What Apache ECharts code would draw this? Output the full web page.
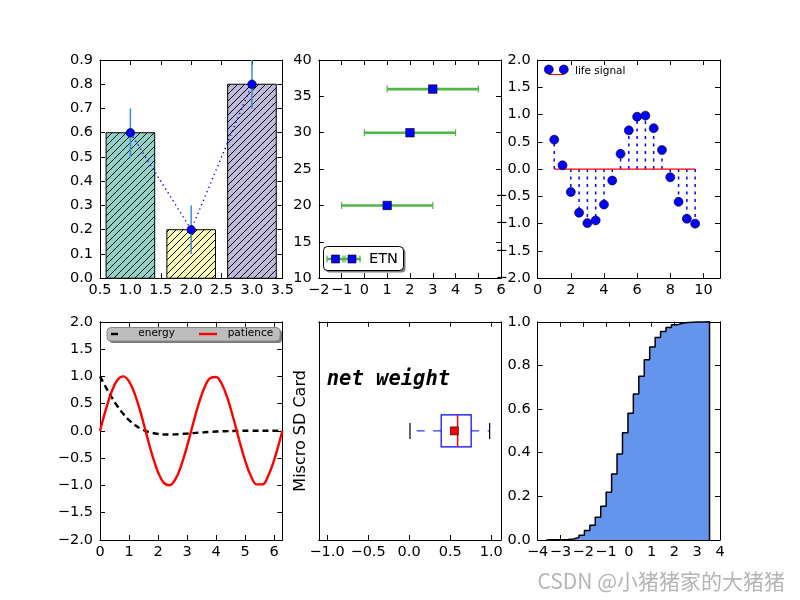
<!DOCTYPE html>
<html><head><meta charset="utf-8">
<script src="https://cdn.jsdelivr.net/npm/echarts@6/dist/echarts.min.js"></script>
<style>html,body{margin:0;padding:0;background:#fff}#c{width:800px;height:600px}</style>
</head><body><div id="c"></div>
<script>
// ---------------- DATA ----------------
const barX = [1, 2, 3];
const barHeights = [0.6, 0.2, 0.8];
const barErrors = [0.1, 0.1, 0.1];
const barColors = ['#8dd3c7', '#ffffb3', '#bebada'];

const etnX = [1, 2, 3];
const etnY = [20, 30, 36];
const etnXErr = [2, 2, 2];

const stemX = [1, 1.5, 2, 2.5, 3, 3.5, 4, 4.5, 5, 5.5, 6, 6.5, 7, 7.5, 8, 8.5, 9, 9.5];
const stemY = [0.54, 0.07, -0.42, -0.80, -0.99, -0.94, -0.65, -0.21, 0.28, 0.71, 0.96, 0.98, 0.75, 0.35, -0.15, -0.60, -0.91, -1.00];

const waveX = [0, 0.2, 0.4, 0.6, 0.8, 1.0, 1.2, 1.4, 1.6, 1.8, 2.0, 2.2, 2.4, 2.6, 2.8, 3.0, 3.2, 3.4, 3.6, 3.8, 4.0, 4.2, 4.4, 4.6, 4.8, 5.0, 5.2, 5.4, 5.6, 5.8, 6.0, 6.2, 6.283];
const energyY = [1.0, 0.802, 0.617, 0.453, 0.313, 0.199, 0.109, 0.042, -0.006, -0.037, -0.056, -0.065, -0.067, -0.064, -0.057, -0.049, -0.041, -0.032, -0.025, -0.018, -0.012, -0.007, -0.004, -0.001, 0.001, 0.002, 0.003, 0.003, 0.003, 0.003, 0.002, 0.002, 0.002];
const patienceY = [0, 0.389, 0.717, 0.932, 1.0, 0.909, 0.675, 0.335, -0.058, -0.443, -0.757, -0.952, -0.996, -0.883, -0.631, -0.279, 0.117, 0.494, 0.794, 0.968, 0.989, 0.855, 0.585, 0.223, -0.175, -0.544, -0.828, -0.981, -0.980, -0.818, -0.537, -0.166, 0.0];

// whisker low, Q1, median, Q3, whisker high
const boxFive = [0.01, 0.39, 0.59, 0.755, 0.98];
const boxMean = [0.55];

const histEdges = [-3.620, -3.381, -3.143, -2.904, -2.665, -2.427, -2.188, -1.949, -1.710, -1.472, -1.233, -0.994, -0.756, -0.517, -0.278, -0.039, 0.199, 0.438, 0.677, 0.915, 1.154, 1.393, 1.631, 1.870, 2.109, 2.348, 2.586, 2.825, 3.064, 3.302, 3.541];
const histCum = [0.001, 0.001, 0.001, 0.002, 0.005, 0.012, 0.022, 0.043, 0.068, 0.104, 0.155, 0.219, 0.302, 0.394, 0.491, 0.581, 0.669, 0.751, 0.826, 0.885, 0.928, 0.955, 0.974, 0.986, 0.993, 0.997, 0.998, 0.999, 0.9995, 1.0];

// tick values
const ax1XTicks = [0.5, 1, 1.5, 2, 2.5, 3, 3.5];
const ax1YTicks = [0, 0.1, 0.2, 0.3, 0.4, 0.5, 0.6, 0.7, 0.8, 0.9];
const ax2XTicks = [-2, -1, 0, 1, 2, 3, 4, 5, 6];
const ax2YTicks = [10, 15, 20, 25, 30, 35, 40];
const ax3XTicks = [0, 2, 4, 6, 8, 10];
const ax3YTicks = [-2, -1.5, -1, -0.5, 0, 0.5, 1, 1.5, 2];
const ax4XTicks = [0, 1, 2, 3, 4, 5, 6];
const ax4YTicks = [-2, -1.5, -1, -0.5, 0, 0.5, 1, 1.5, 2];
const ax5XTicks = [-1, -0.5, 0, 0.5, 1];
const ax5YTicks = [];
const ax6XTicks = [-4, -3, -2, -1, 0, 1, 2, 3, 4];
const ax6YTicks = [0, 0.2, 0.4, 0.6, 0.8, 1.0];

// ---------------- LAYOUT ----------------
const FONT = 'DejaVu Sans';
const TICKFS = 14.5;
const grids = [
  {left: 100, top: 60, width: 182.35, height: 218.2},
  {left: 318.8, top: 60, width: 182.35, height: 218.2},
  {left: 537.65, top: 60, width: 182.35, height: 218.2},
  {left: 100, top: 321.8, width: 182.35, height: 218.2},
  {left: 318.8, top: 321.8, width: 182.35, height: 218.2},
  {left: 537.65, top: 321.8, width: 182.35, height: 218.2}
];
const specs = [
  {x: {min: 0.5, max: 3.5, ticks: ax1XTicks, dec: 1}, y: {min: 0, max: 0.9, ticks: ax1YTicks, dec: 1}},
  {x: {min: -2, max: 6, ticks: ax2XTicks, dec: 0}, y: {min: 10, max: 40, ticks: ax2YTicks, dec: 0}},
  {x: {min: 0, max: 11, ticks: ax3XTicks, dec: 0}, y: {min: -2, max: 2, ticks: ax3YTicks, dec: 1}},
  {x: {min: 0, max: 6.283, ticks: ax4XTicks, dec: 0}, y: {min: -2, max: 2, ticks: ax4YTicks, dec: 1}},
  {x: {min: -1.1, max: 1.12, ticks: ax5XTicks, dec: 1}, y: {min: 0.5, max: 1.5, ticks: ax5YTicks, dec: 0, name: 'Miscro SD Card'}},
  {x: {min: -4, max: 4, ticks: ax6XTicks, dec: 0}, y: {min: 0, max: 1.0, ticks: ax6YTicks, dec: 1}}
];
function fmt(v, d) {
  let s = Number(v).toFixed(d);
  if (/^-0(\.0+)?$/.test(s)) s = s.slice(1);
  return s.replace('-', '\u2212');
}
function makeAxis(gi, pos, s, primary, isX) {
  const a = {
    type: 'value', gridIndex: gi, position: pos, min: s.min, max: s.max,
    axisLine: {show: true, onZero: false, lineStyle: {color: '#000', width: 1}},
    axisTick: {show: s.ticks.length > 0, inside: true, length: 5, customValues: s.ticks, lineStyle: {color: '#000', width: 1}},
    axisLabel: {show: primary && s.ticks.length > 0, customValues: s.ticks, formatter: v => fmt(v, s.dec),
      color: '#000', fontFamily: FONT, fontSize: TICKFS, margin: isX ? 5 : 7, hideOverlap: false},
    splitLine: {show: false}
  };
  if (primary && s.name) {
    a.name = s.name; a.nameLocation = 'middle'; a.nameGap = 10; a.nameRotate = 90;
    a.nameTextStyle = {color: '#000', fontFamily: FONT, fontSize: 16};
  }
  return a;
}
const xAxes = [], yAxes = [];
specs.forEach((sp, gi) => {
  xAxes.push(makeAxis(gi, 'bottom', sp.x, true, true));
  xAxes.push(makeAxis(gi, 'top', sp.x, false, true));
  yAxes.push(makeAxis(gi, 'left', sp.y, true, false));
  yAxes.push(makeAxis(gi, 'right', sp.y, false, false));
});
const AX = gi => ({xAxisIndex: 2 * gi, yAxisIndex: 2 * gi});

// ---------------- SERIES ----------------
const series = [];
// 1: hatched bars
series.push(Object.assign({
  type: 'custom', z: 2,
  data: barX.map((x, i) => [x, barHeights[i], i]),
  renderItem(params, api) {
    const x = api.value(0), h = api.value(1), i = api.value(2);
    const p0 = api.coord([x - 0.4, 0]), p1 = api.coord([x + 0.4, h]);
    const x0 = p0[0], x1 = p1[0], y0 = p1[1], y1 = p0[1];
    const ch = [{type: 'rect', shape: {x: x0, y: y0, width: x1 - x0, height: y1 - y0}, style: {fill: barColors[i]}}];
    const s = 7;
    for (let c = Math.ceil((x0 + y0) / s) * s; c < x1 + y1; c += s) {
      const xa = Math.max(x0, c - y1), xb = Math.min(x1, c - y0);
      if (xb > xa) ch.push({type: 'line', shape: {x1: xa, y1: c - xa, x2: xb, y2: c - xb}, style: {stroke: '#000', lineWidth: 1}});
    }
    ch.push({type: 'rect', shape: {x: x0, y: y0, width: x1 - x0, height: y1 - y0}, style: {fill: null, stroke: '#000', lineWidth: 1}});
    return {type: 'group', children: ch};
  }
}, AX(0)));
series.push(Object.assign({
  type: 'line', z: 3, symbol: 'none', data: barX.map((x, i) => [x, barHeights[i]]),
  lineStyle: {color: '#0000ff', width: 1.5, type: [1.2, 3.5]}
}, AX(0)));
series.push(Object.assign({
  type: 'custom', z: 4, data: barX.map((x, i) => [x, barHeights[i], barErrors[i]]),
  renderItem(params, api) {
    const x = api.value(0), y = api.value(1), e = api.value(2);
    const a = api.coord([x, y - e]), b = api.coord([x, y + e]);
    return {type: 'line', shape: {x1: a[0], y1: a[1], x2: b[0], y2: b[1]}, style: {stroke: '#3d8bd8', lineWidth: 1.5}};
  }
}, AX(0)));
series.push(Object.assign({
  type: 'scatter', z: 5, symbol: 'circle', symbolSize: 8.5, data: barX.map((x, i) => [x, barHeights[i]]),
  itemStyle: {color: '#0000ff', borderColor: '#000', borderWidth: 0.6, opacity: 1}
}, AX(0)));

// 2: horizontal error bars
series.push(Object.assign({
  type: 'custom', z: 3, data: etnX.map((x, i) => [x, etnY[i], etnXErr[i]]),
  renderItem(params, api) {
    const x = api.value(0), y = api.value(1), e = api.value(2);
    const a = api.coord([x - e, y]), b = api.coord([x + e, y]);
    return {type: 'group', children: [
      {type: 'line', shape: {x1: a[0], y1: a[1], x2: b[0], y2: b[1]}, style: {stroke: '#50b446', lineWidth: 2.6}},
      {type: 'line', shape: {x1: a[0], y1: a[1] - 3.5, x2: a[0], y2: a[1] + 3.5}, style: {stroke: '#50b446', lineWidth: 1.2}},
      {type: 'line', shape: {x1: b[0], y1: b[1] - 3.5, x2: b[0], y2: b[1] + 3.5}, style: {stroke: '#50b446', lineWidth: 1.2}}
    ]};
  }
}, AX(1)));
series.push(Object.assign({
  type: 'scatter', z: 5, symbol: 'rect', symbolSize: 8.5, data: etnX.map((x, i) => [x, etnY[i]]),
  itemStyle: {color: '#0000ff', borderColor: '#000', borderWidth: 0.6, opacity: 1}
}, AX(1)));

// 3: stem plot
series.push(Object.assign({
  type: 'custom', z: 3, data: stemX.map((x, i) => [x, stemY[i]]),
  renderItem(params, api) {
    const a = api.coord([api.value(0), 0]), b = api.coord([api.value(0), api.value(1)]);
    return {type: 'line', shape: {x1: a[0], y1: a[1], x2: b[0], y2: b[1]}, style: {stroke: '#0000ff', lineWidth: 1.5, lineDash: [3, 4.5]}};
  }
}, AX(2)));
series.push(Object.assign({
  type: 'line', z: 4, symbol: 'none', data: [[stemX[0], 0], [stemX[stemX.length - 1], 0]],
  lineStyle: {color: '#ff0000', width: 1.2}
}, AX(2)));
series.push(Object.assign({
  type: 'scatter', z: 5, symbol: 'circle', symbolSize: 9, data: stemX.map((x, i) => [x, stemY[i]]),
  itemStyle: {color: '#0000ff', borderColor: '#000', borderWidth: 0.6, opacity: 1}
}, AX(2)));

// 4: waves
series.push(Object.assign({
  type: 'line', z: 3, symbol: 'none', smooth: 0.4, data: waveX.map((x, i) => [x, energyY[i]]),
  lineStyle: {color: '#000', width: 2.4, type: [6, 4]}
}, AX(3)));
series.push(Object.assign({
  type: 'line', z: 4, symbol: 'none', smooth: 0.4, data: waveX.map((x, i) => [x, patienceY[i]]),
  lineStyle: {color: '#ff0000', width: 2.4}
}, AX(3)));

// 5: box plot (horizontal)
series.push(Object.assign({
  type: 'custom', z: 3, data: [[...boxFive, boxMean[0], 1]],
  renderItem(params, api) {
    const v = [0, 1, 2, 3, 4].map(i => api.value(i));
    const mean = api.value(5), yc = api.value(6);
    const half = 0.0735;
    const yT = api.coord([0, yc + half])[1], yB = api.coord([0, yc - half])[1], yM = api.coord([0, yc])[1];
    const cT = api.coord([0, yc + half / 2])[1], cB = api.coord([0, yc - half / 2])[1];
    const X = v.map(t => api.coord([t, yc])[0]);
    const mx = api.coord([mean, yc]);
    const blue = '#0000ff';
    return {type: 'group', children: [
      {type: 'line', shape: {x1: X[1], y1: yM, x2: X[0], y2: yM}, style: {stroke: blue, lineWidth: 1, lineDash: [8, 8.5]}},
      {type: 'line', shape: {x1: X[3], y1: yM, x2: X[4], y2: yM}, style: {stroke: blue, lineWidth: 1, lineDash: [8, 8.5]}},
      {type: 'line', shape: {x1: X[0], y1: cT, x2: X[0], y2: cB}, style: {stroke: '#000', lineWidth: 1.2}},
      {type: 'line', shape: {x1: X[4], y1: cT, x2: X[4], y2: cB}, style: {stroke: '#000', lineWidth: 1.2}},
      {type: 'rect', shape: {x: X[1], y: yT, width: X[3] - X[1], height: yB - yT}, style: {fill: null, stroke: blue, lineWidth: 1.2}},
      {type: 'line', shape: {x1: X[2], y1: yT, x2: X[2], y2: yB}, style: {stroke: '#ff0000', lineWidth: 1.5}},
      {type: 'rect', shape: {x: mx[0] - 4, y: mx[1] - 4, width: 8, height: 8}, style: {fill: '#ff0000', stroke: '#000', lineWidth: 0.6}}
    ]};
  }
}, AX(4)));

// 6: cumulative histogram (stepfilled)
const histPts = [[histEdges[0], 0]];
histCum.forEach((v, i) => histPts.push([histEdges[i], v]));
histPts.push([histEdges[histEdges.length - 1], histCum[histCum.length - 1]]);
histPts.push([histEdges[histEdges.length - 1], 0]);
series.push(Object.assign({
  type: 'line', z: 3, symbol: 'none', step: 'end', data: histPts,
  lineStyle: {color: '#000', width: 1.5},
  areaStyle: {color: '#6495ed', opacity: 1, origin: 'start'}
}, AX(5)));

// ---------------- LEGENDS / TEXT ----------------
const graphic = [
  // ETN legend
  {type: 'rect', z: 100, shape: {x: 325.5, y: 248.5, width: 80, height: 24, r: 4}, style: {fill: '#7f7f7f'}},
  {type: 'rect', z: 101, shape: {x: 323.5, y: 246.5, width: 80, height: 24, r: 4}, style: {fill: '#fff', stroke: '#000', lineWidth: 1}},
  {type: 'line', z: 102, shape: {x1: 327, y1: 259, x2: 361, y2: 259}, style: {stroke: '#50b446', lineWidth: 2.6}},
  {type: 'line', z: 102, shape: {x1: 327, y1: 255.5, x2: 327, y2: 262.5}, style: {stroke: '#50b446', lineWidth: 1.2}},
  {type: 'line', z: 102, shape: {x1: 343, y1: 255.5, x2: 343, y2: 262.5}, style: {stroke: '#50b446', lineWidth: 1.2}},
  {type: 'line', z: 102, shape: {x1: 345, y1: 255.5, x2: 345, y2: 262.5}, style: {stroke: '#50b446', lineWidth: 1.2}},
  {type: 'line', z: 102, shape: {x1: 360, y1: 255.5, x2: 360, y2: 262.5}, style: {stroke: '#50b446', lineWidth: 1.2}},
  {type: 'rect', z: 103, shape: {x: 331.5, y: 255, width: 8, height: 8}, style: {fill: '#0000ff', stroke: '#000', lineWidth: 0.6}},
  {type: 'rect', z: 103, shape: {x: 348, y: 255, width: 8, height: 8}, style: {fill: '#0000ff', stroke: '#000', lineWidth: 0.6}},
  {type: 'text', z: 103, style: {text: 'ETN', x: 369, y: 259.5, fill: '#000', fontFamily: FONT, fontSize: TICKFS, verticalAlign: 'middle', align: 'left'}},
  // life signal legend
  {type: 'polyline', z: 102, shape: {points: [[548.8, 72], [548.8, 74.5], [563.8, 74.5], [563.8, 72]]}, style: {stroke: '#ff0000', lineWidth: 1, fill: null}},
  {type: 'circle', z: 103, shape: {cx: 548.8, cy: 69.5, r: 4.5}, style: {fill: '#0000ff', stroke: '#000', lineWidth: 0.6}},
  {type: 'circle', z: 103, shape: {cx: 563.8, cy: 69.5, r: 4.5}, style: {fill: '#0000ff', stroke: '#000', lineWidth: 0.6}},
  {type: 'text', z: 103, style: {text: 'life signal', x: 575, y: 71, fill: '#000', fontFamily: FONT, fontSize: 10.5, verticalAlign: 'middle', align: 'left'}},
  // energy / patience legend
  {type: 'rect', z: 100, shape: {x: 109, y: 329.5, width: 173, height: 13.5, r: 4}, style: {fill: '#7a7a7a'}},
  {type: 'rect', z: 101, shape: {x: 107, y: 327.5, width: 173, height: 13.5, r: 4}, style: {fill: '#bdbdbd', stroke: '#888', lineWidth: 1}},
  {type: 'line', z: 102, shape: {x1: 111, y1: 334, x2: 118, y2: 334}, style: {stroke: '#000', lineWidth: 2.4}},
  {type: 'text', z: 103, style: {text: 'energy', x: 138.3, y: 333.5, fill: '#000', fontFamily: FONT, fontSize: 10.5, verticalAlign: 'middle', align: 'left'}},
  {type: 'line', z: 102, shape: {x1: 199, y1: 334, x2: 217, y2: 334}, style: {stroke: '#ff0000', lineWidth: 2.4}},
  {type: 'text', z: 103, style: {text: 'patience', x: 227.7, y: 333.5, fill: '#000', fontFamily: FONT, fontSize: 10.5, verticalAlign: 'middle', align: 'left'}},
  // annotation
  {type: 'text', z: 103, style: {text: 'net weight', x: 326.7, y: 380, fill: '#000', fontFamily: 'DejaVu Sans Mono', fontWeight: 'bold', fontStyle: 'italic', fontSize: 20.5, verticalAlign: 'middle', align: 'left'}},
  // watermark
  {type: 'text', z: 103, style: {text: 'CSDN @小猪猪家的大猪猪', x: 785, y: 581, fill: '#b5b5b5', fontFamily: 'Noto Sans CJK SC', fontSize: 21, verticalAlign: 'middle', align: 'right'}}
];

const chart = echarts.init(document.getElementById('c'), null, {renderer: 'canvas'});
chart.setOption({
  animation: false,
  backgroundColor: '#fff',
  grid: grids,
  xAxis: xAxes,
  yAxis: yAxes,
  series: series,
  graphic: graphic
});
</script>
</body></html>
